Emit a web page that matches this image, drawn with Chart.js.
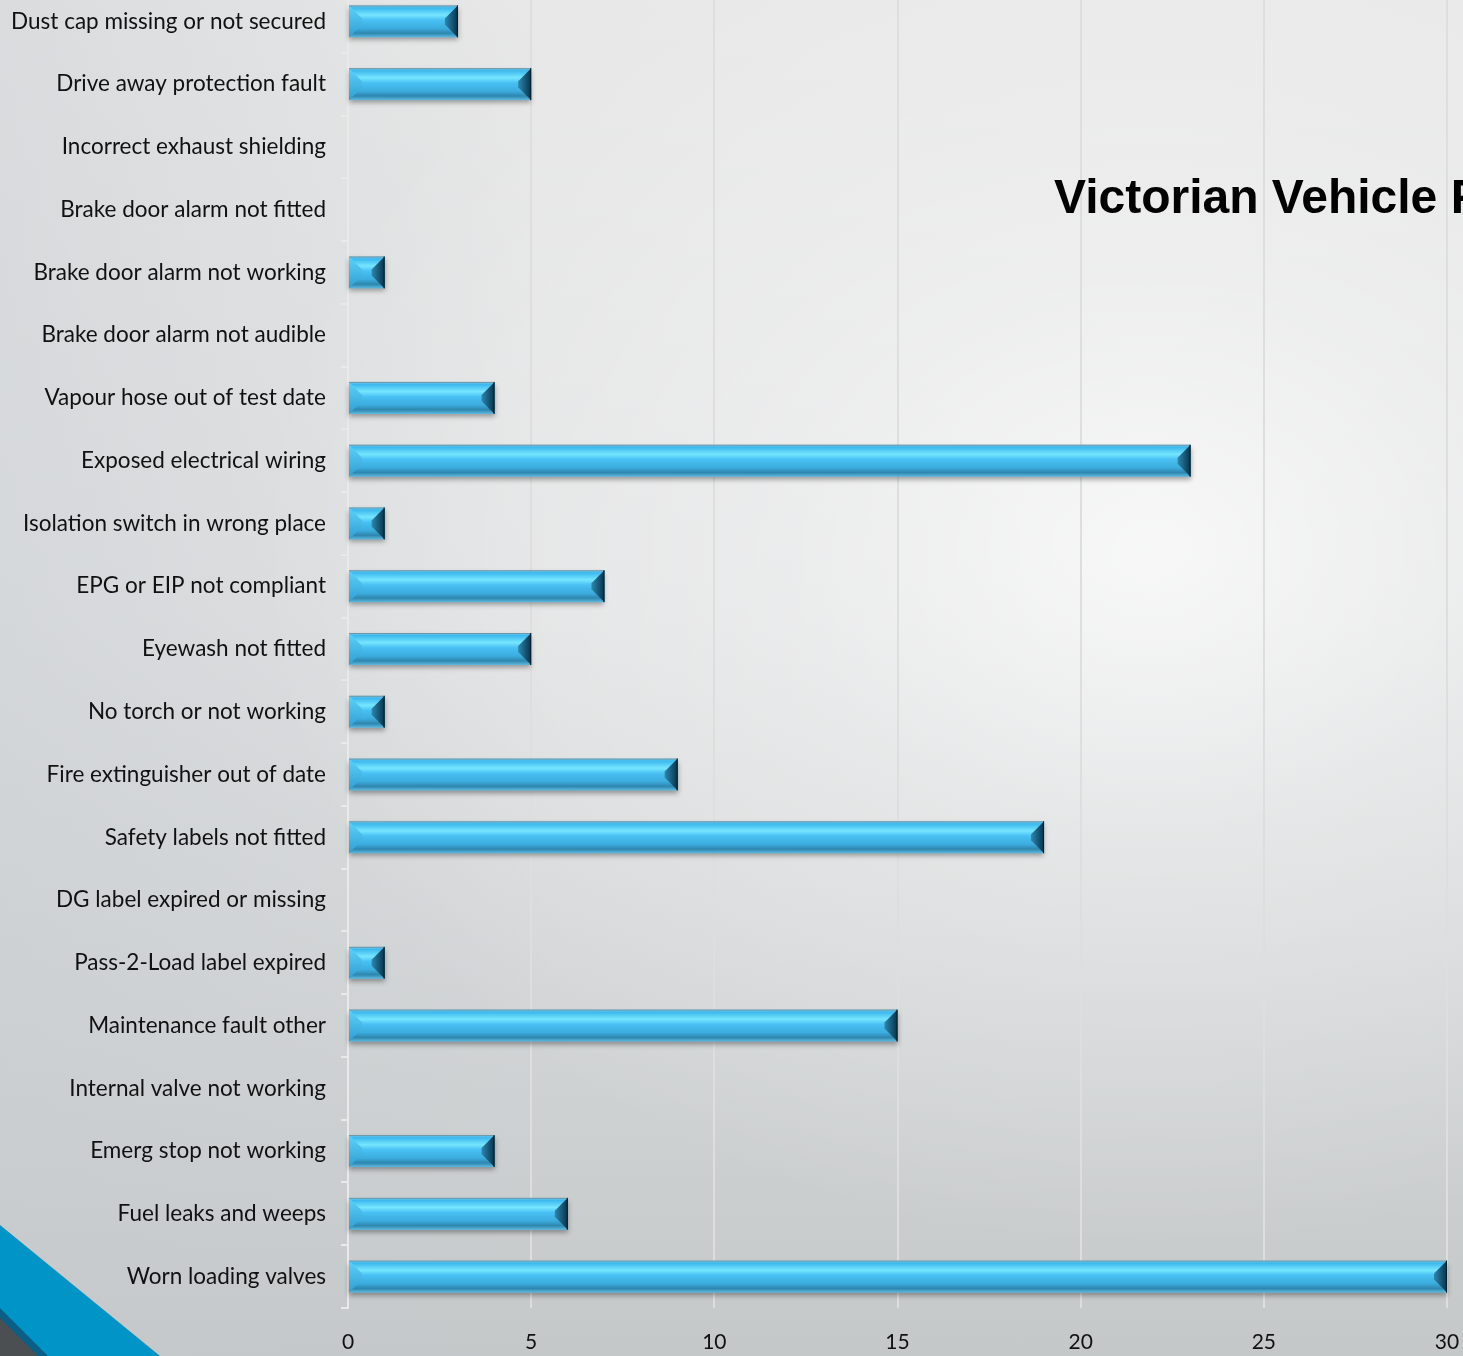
<!DOCTYPE html>
<html>
<head>
<meta charset="utf-8">
<script src="https://cdn.jsdelivr.net/npm/chart.js@4.4.1/dist/chart.umd.min.js"></script>
<style>
  html, body { margin: 0; padding: 0; }
  body {
    width: 1463px; height: 1356px; overflow: hidden; position: relative;
    background:
      radial-gradient(ellipse 900px 700px at 1150px 550px, rgba(255,255,255,0.75) 0%, rgba(255,255,255,0.35) 40%, rgba(255,255,255,0) 100%),
      linear-gradient(to right, rgba(196,202,206,0.4) 0px, rgba(196,202,206,0) 550px),
      linear-gradient(to bottom, #e8e8e8 0%, #e0e1e2 45%, #cfd2d3 80%, #c5c8c9 100%);
  }
  #corner { position: absolute; left: 0; top: 0; }
  #wrap { position: absolute; left: 0; top: -40px; width: 1463px; height: 1396px; }
  #title {
    position: absolute; left: 1054px; top: 169px; white-space: nowrap;
    font-family: "Liberation Sans", Arial, sans-serif; font-weight: bold; font-size: 48px; color: #000;
  }
</style>
</head>
<body>
<svg id="corner" width="1463" height="1356">
  <polygon points="0,1225 160,1356 0,1356" fill="#0095c6"/>
  <polygon points="0,1308 48,1356 0,1356" fill="#0b5f86"/>
  <polygon points="0,1318 38,1356 0,1356" fill="#4c4f52"/>
</svg>
<div id="wrap"><canvas id="chart"></canvas></div>
<div id="title">Victorian Vehicle Faults</div>
<script>
const categories = [
  "Dust cap missing or not secured",
  "Drive away protection fault",
  "Incorrect exhaust shielding",
  "Brake door alarm not fitted",
  "Brake door alarm not working",
  "Brake door alarm not audible",
  "Vapour hose out of test date",
  "Exposed electrical wiring",
  "Isolation switch in wrong place",
  "EPG or EIP not compliant",
  "Eyewash not fitted",
  "No torch or not working",
  "Fire extinguisher out of date",
  "Safety labels not fitted",
  "DG label expired or missing",
  "Pass-2-Load label expired",
  "Maintenance fault other",
  "Internal valve not working",
  "Emerg stop not working",
  "Fuel leaks and weeps",
  "Worn loading valves"
];
const faultCounts = [3, 5, 0, 0, 1, 0, 4, 23, 1, 7, 5, 1, 9, 19, 0, 1, 15, 0, 4, 6, 30];
const xTicks = [0, 5, 10, 15, 20, 25, 30];

// draws the bevelled "3D" bar look over each bar element
const bevelBars = {
  id: "bevelBars",
  afterDatasetsDraw(chart) {
    const ctx = chart.ctx;
    chart.getDatasetMeta(0).data.forEach(bar => {
      const x0 = bar.base, x1 = bar.x, h = bar.height;
      const y0 = bar.y - h / 2, y1 = bar.y + h / 2;
      const w = x1 - x0;
      if (w < 1) return;
      const d = Math.min(13, w / 2.6);

      ctx.save();
      // shadow + body
      ctx.shadowColor = "rgba(0,0,0,0.35)";
      ctx.shadowBlur = 5;
      ctx.shadowOffsetY = 3;
      const g = ctx.createLinearGradient(0, y0, 0, y1);
      g.addColorStop(0, "#7ccbe8");
      g.addColorStop(0.08, "#3cb8ee");
      g.addColorStop(0.3, "#76e6ff");
      g.addColorStop(0.46, "#48c0f3");
      g.addColorStop(0.72, "#3cacde");
      g.addColorStop(0.87, "#2e86ae");
      g.addColorStop(1, "#5ebbe2");
      ctx.fillStyle = g;
      ctx.fillRect(x0, y0, w, h);
      ctx.shadowColor = "transparent";

      // left bevel
      const gl = ctx.createLinearGradient(0, y0, 0, y1);
      gl.addColorStop(0, "#5ed1f9");
      gl.addColorStop(1, "#319ed2");
      ctx.fillStyle = gl;
      ctx.beginPath();
      ctx.moveTo(x0, y0); ctx.lineTo(x0 + d, y0 + d);
      ctx.lineTo(x0 + d, y1 - d); ctx.lineTo(x0, y1);
      ctx.closePath(); ctx.fill();

      // right bevel
      const gr = ctx.createLinearGradient(x1 - d, 0, x1, 0);
      gr.addColorStop(0, "#2c87b0");
      gr.addColorStop(1, "#06324a");
      ctx.fillStyle = gr;
      ctx.beginPath();
      ctx.moveTo(x1, y0); ctx.lineTo(x1 - d, y0 + d);
      ctx.lineTo(x1 - d, y1 - d); ctx.lineTo(x1, y1);
      ctx.closePath(); ctx.fill();

      // edges
      ctx.strokeStyle = "rgba(110,130,140,0.7)";
      ctx.lineWidth = 1;
      ctx.beginPath(); ctx.moveTo(x0, y0 + 0.5); ctx.lineTo(x1, y0 + 0.5); ctx.stroke();
      ctx.strokeStyle = "#03202e";
      ctx.beginPath(); ctx.moveTo(x1 - 0.5, y0); ctx.lineTo(x1 - 0.5, y1); ctx.stroke();
      ctx.restore();
    });
  }
};

new Chart(document.getElementById("chart"), {
  type: "bar",
  data: {
    labels: categories,
    datasets: [{
      data: faultCounts,
      backgroundColor: "rgba(0,0,0,0)",
      borderWidth: 0,
      barPercentage: 0.51,
      categoryPercentage: 1
    }]
  },
  options: {
    indexAxis: "y",
    responsive: true,
    maintainAspectRatio: false,
    animation: false,
    layout: { padding: { top: 30, right: 16, left: 0, bottom: 0 } },
    plugins: { legend: { display: false }, tooltip: { enabled: false } },
    scales: {
      x: {
        min: 0,
        max: 30,
        afterBuildTicks: scale => { scale.ticks = xTicks.map(v => ({ value: v })); },
        afterFit: scale => {
          scale.paddingLeft = 0;
          scale.paddingRight = 0;
          scale.height = 48;
        },
        grid: { color: "#dedede", lineWidth: 2, drawTicks: false },
        border: { display: false },
        ticks: {
          padding: 22,
          maxRotation: 0,
          color: "#111",
          font: { family: "Lato", size: 21 }
        }
      },
      y: {
        afterFit: scale => {
          scale.width = 348;
          scale.paddingTop = 0;
          scale.paddingBottom = 0;
        },
        grid: { drawOnChartArea: false, color: "#e9e9e9", lineWidth: 2, tickLength: 7 },
        border: { color: "#e9e9e9", width: 2 },
        ticks: {
          padding: 15,
          color: "#111",
          font: { family: "Lato", size: 22.5 }
        }
      }
    }
  },
  plugins: [bevelBars]
});
</script>
</body>
</html>
